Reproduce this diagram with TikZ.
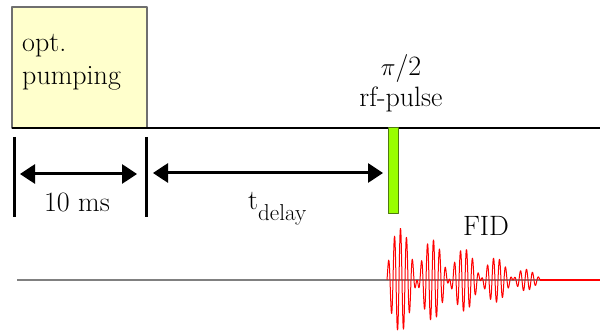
\documentclass[tikz,border=0pt]{standalone}
\usepackage{fontspec}
\usetikzlibrary{arrows.meta}
\definecolor{pumpyellow}{HTML}{FFFFCC}
\definecolor{pumpframe}{HTML}{6F6F6F}
\definecolor{pulsegreen}{HTML}{99FF00}
\definecolor{pulseframe}{HTML}{4F7A10}
\definecolor{fidred}{HTML}{FF0000}
\definecolor{axisgray}{HTML}{808080}

\begin{document}
\begin{tikzpicture}[
  x=1pt,
  y=-1pt,
  line join=round,
  bigtext/.style={inner sep=0pt,font=\fontsize{28}{31}\selectfont},
  smalltext/.style={inner sep=0pt,font=\fontsize{23}{25}\selectfont},
  pumpbox/.style={draw=pumpframe,fill=pumpyellow,line width=1.2pt},
  pulsebar/.style={draw=pulseframe,fill=pulsegreen,line width=1pt},
  tickbar/.style={draw=black,line width=3pt},
  interval/.style={draw=black,line width=3pt,{Triangle[length=15pt,width=19pt]}-{Triangle[length=15pt,width=19pt]}},
  timeline/.style={draw=black,line width=1.2pt},
  zeroline/.style={draw=axisgray,line width=2pt},
  fidtrace/.style={draw=fidred,line width=1pt},
  fidtail/.style={draw=fidred,line width=2pt}
]
  % Match the original artwork frame.
  \useasboundingbox (0,0) rectangle (600,331);

  % Optical pumping window and the time line below it.
  \coordinate (boxNW) at (12,7);
  \coordinate (boxSE) at (147,128);
  \coordinate (lineStart) at (12,128);
  \coordinate (lineEnd) at (600,128);
  \draw[pumpbox] (boxNW) rectangle (boxSE);
  \draw[timeline] (lineStart) -- (lineEnd);

  % Tick bars marking the intervals.
  \coordinate (tickAtop) at (14,137);
  \coordinate (tickAbot) at (14,217);
  \coordinate (tickBtop) at (146,137);
  \coordinate (tickBbot) at (146,217);
  \draw[tickbar] (tickAtop) -- (tickAbot);
  \draw[tickbar] (tickBtop) -- (tickBbot);

  % Interval arrows.
  \coordinate (pumpLeft) at (20,174);
  \coordinate (pumpRight) at (137,174);
  \coordinate (delayLeft) at (153,173);
  \coordinate (delayRight) at (383,173);
  \draw[interval] (pumpLeft) -- (pumpRight);
  \draw[interval] (delayLeft) -- (delayRight);

  % rf pulse.
  \coordinate (pulseNW) at (388,128);
  \coordinate (pulseSE) at (398,214);
  \draw[pulsebar] (pulseNW) rectangle (pulseSE);

  % Signal base line and the free induction decay.
  \coordinate (zeroStart) at (17,280);
  \coordinate (zeroEnd) at (600,280);
  \coordinate (fidEnd) at (540,280);
  \draw[zeroline] (zeroStart) -- (zeroEnd);
  \draw[fidtrace] plot[domain=0:153,samples=460,smooth]
    ({387+\x},{280-58*exp(-\x/130)*(1-(\x/160)^6)*sin(60*\x)*cos(5.625*(\x-14))});
  \draw[fidtail] (fidEnd) -- (zeroEnd);

  % Labels.
  \node[bigtext,anchor=base west] (optText) at (22,52) {opt.};
  \node[bigtext,anchor=base west] (pumpText) at (22,85) {pumping};
  \node[bigtext,anchor=base] (piText) at (401,76) {$\pi$/2};
  \node[bigtext,anchor=base] (rfText) at (401,107) {rf-pulse};
  \node[bigtext,anchor=base] (msText) at (77,212) {10 ms};
  \node[bigtext,anchor=base west] (tText) at (248,210) {t};
  \node[smalltext,anchor=base west] (delayText) at (258,221) {delay};
  \node[bigtext,anchor=base] (fidText) at (486,236) {FID};
\end{tikzpicture}
\end{document}
